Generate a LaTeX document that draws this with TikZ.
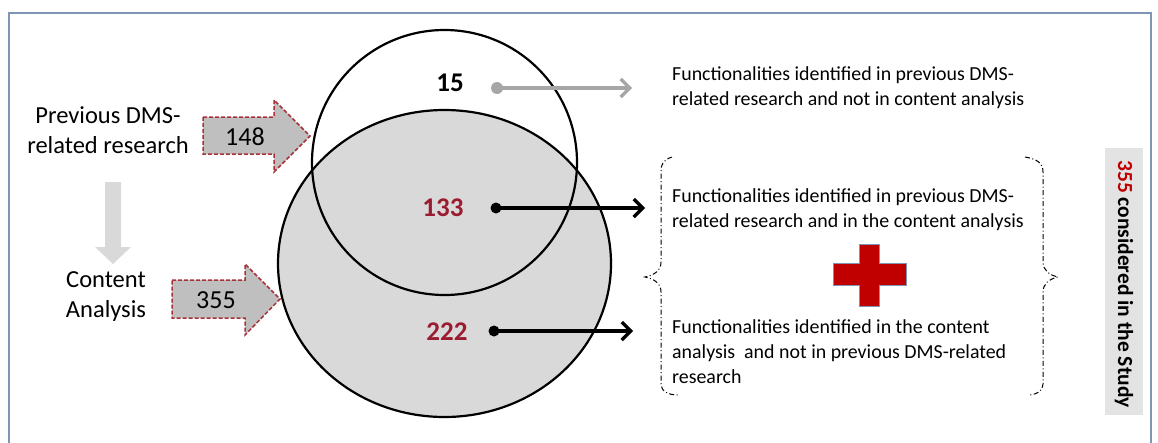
\documentclass[tikz,border=0pt]{standalone}
\usepackage{fontspec}
\setmainfont{Carlito}
\usetikzlibrary{arrows.meta}
\definecolor{framec}{HTML}{7E96B4}
\definecolor{darkred}{HTML}{9B1B30}
\definecolor{dashred}{HTML}{A8323A}
\definecolor{crossred}{HTML}{C00000}
\definecolor{blockgray}{HTML}{BFBFBF}
\definecolor{venngray}{HTML}{D9D9D9}
\definecolor{lightarrow}{HTML}{D9D9D9}
\definecolor{dotgray}{HTML}{A6A6A6}
\definecolor{labelbox}{HTML}{E3E3E3}
\tikzset{
  blockarrow/.style={fill=blockgray, draw=dashred, line width=1.5pt, dash pattern=on 4pt off 2pt},
  numtext/.style={font=\fontsize{26}{28}\selectfont, inner sep=0pt},
  vennnum/.style={font=\fontsize{27}{30}\selectfont\bfseries, inner sep=0pt},
  srclabel/.style={font=\fontsize{24.5}{30}\selectfont, align=center, inner sep=0pt},
  desc/.style={font=\fontsize{19.9}{25}\selectfont, align=left, anchor=west, inner sep=0pt},
  pointer/.style={line width=3.2pt, -{Straight Barb[length=9pt, width=18pt, line width=3.2pt]}},
  dot/.style={circle, fill, inner sep=0pt, minimum size=11pt},
  bracestyle/.style={line width=1pt, dash pattern=on 5pt off 2.5pt on 1pt off 2.5pt}
}
\begin{document}
\begin{tikzpicture}[x=1pt, y=-1pt]
\useasboundingbox (0,0) rectangle (1158,442);
% outer frame
\draw[framec, line width=2.2pt] (9,460) -- (9,13) -- (1151,13) -- (1151,460);

% Venn sets
\fill[venngray] (444.5,263.5) ellipse [x radius=166.5, y radius=153.5];
\draw[line width=2.2pt] (444.5,263.5) ellipse [x radius=166.5, y radius=153.5];
\draw[line width=2.2pt] (444.5,162.5) circle [radius=132.5];

% source labels
\node[srclabel] (prev) at (108,130) {Previous DMS-\\related research};
\node[srclabel] (content) at (106,297) {Content\\Analysis};

% down arrow between sources
\fill[lightarrow] (105,182) -- (121,182) -- (121,247) -- (131,247) -- (113,264) -- (95,247) -- (105,247) -- cycle;

% block arrows into the sets
\draw[blockarrow] (203,117) -- (274,117) -- (274,100) -- (310,136) -- (274,172) -- (274,154) -- (203,154) -- cycle;
\node[numtext] (n148) at (245,137) {148};
\draw[blockarrow] (172,280) -- (245,280) -- (245,264) -- (280,299) -- (245,335) -- (245,318) -- (172,318) -- cycle;
\node[numtext] (n355) at (216,300) {355};

% region counts
\node[vennnum] (n15) at (450,83) {15};
\node[vennnum, text=darkred] (n133) at (443,208) {133};
\node[vennnum, text=darkred] (n222) at (447,332) {222};

% descriptions
\node[desc] (d1) at (672,88) {Functionalities identified in previous DMS-\\related research and not in content analysis};
\node[desc] (d2) at (672,210) {Functionalities identified in previous DMS-\\related research and in the content analysis};
\node[desc] (d3) at (672,352) {Functionalities identified in the content\\analysis\ \ and not in previous DMS-related\\research};

% pointers from counts to descriptions
\node[dot, dotgray, minimum size=12pt] (p15) at (497,88) {};
\coordinate (e15) at (632,88);
\draw[pointer, dotgray, line width=4pt] (p15.center) -- (e15);
\node[dot] (p133) at (496,208) {};
\coordinate (e133) at (645,208);
\draw[pointer] (p133.center) -- (e133);
\node[dot] (p222) at (494,331) {};
\coordinate (e222) at (633,331);
\draw[pointer] (p222.center) -- (e222);

% plus sign
\fill[crossred, draw=framec, line width=0.8pt]
  (859,244) -- (879,244) -- (879,263) -- (906,263) -- (906,285) -- (879,285)
  -- (879,306) -- (859,306) -- (859,285) -- (833,285) -- (833,263) -- (859,263) -- cycle;

% braces
\draw[bracestyle] (672,157) .. controls (663,160) and (661,164) .. (661,172)
  -- (661,262) .. controls (661,270) and (655,275) .. (645,277)
  .. controls (655,279) and (661,284) .. (661,292)
  -- (661,384) .. controls (661,391) and (668,395) .. (678,395);
\draw[bracestyle] (1025,157) .. controls (1037,159) and (1043,163) .. (1043,172)
  -- (1043,262) .. controls (1043,270) and (1049,275) .. (1058,277)
  .. controls (1049,279) and (1043,284) .. (1043,292)
  -- (1043,384) .. controls (1043,391) and (1037,394) .. (1030,395);

% total label
\fill[labelbox] (1105,148) rectangle (1143,415);
\node[rotate=-90, anchor=west, inner sep=0pt, font=\fontsize{21.5}{24}\selectfont\bfseries] (total) at (1124,160) {\textcolor{crossred}{355} considered in the Study};
\end{tikzpicture}
\end{document}
